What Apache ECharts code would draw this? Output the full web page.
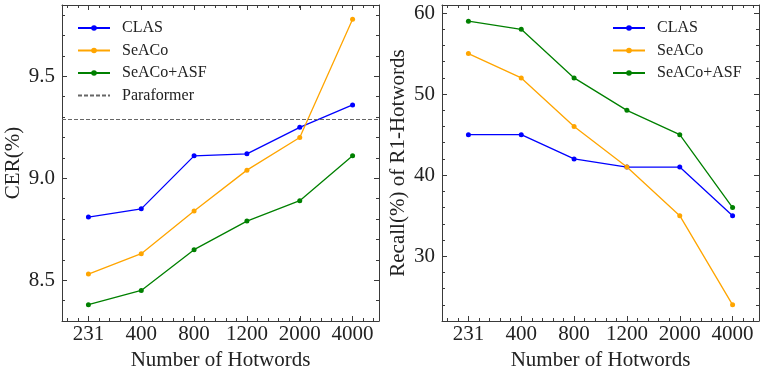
<!DOCTYPE html>
<html>
<head>
<meta charset="utf-8">
<script src="https://cdn.jsdelivr.net/npm/echarts@6/dist/echarts.min.js"></script>
<style>
  html, body { margin: 0; padding: 0; background: #fff; }
  #main { width: 764px; height: 374px; }
</style>
</head>
<body>
<div id="main"></div>
<script>
// data
const hotwords = ['231', '400', '800', '1200', '2000', '4000'];
const cerCLAS = [8.81, 8.85, 9.11, 9.12, 9.25, 9.36];
const cerSeACo = [8.53, 8.63, 8.84, 9.04, 9.20, 9.78];
const cerSeACoASF = [8.38, 8.45, 8.65, 8.79, 8.89, 9.11];
const cerParaformer = 9.29;
const recallCLAS = [45, 45, 42, 41, 41, 35];
const recallSeACo = [55, 52, 46, 41, 35, 24];
const recallSeACoASF = [59, 58, 52, 48, 45, 36];

// minor ticks on x: every 0.2 of a category
const minorCats = [];
for (let i = 0; i < hotwords.length * 5; i++) minorCats.push('m' + i);

var FONT = 'Liberation Serif';
var FRAME = '#3a3a3a';
var chartDom = document.getElementById('main');
var myChart = echarts.init(chartDom);

function xAxes(grid) {
  return [
    { gridIndex: grid, type: 'category', position: 'bottom', data: hotwords, boundaryGap: true,
      name: 'Number of Hotwords', nameLocation: 'middle', nameGap: 21,
      nameTextStyle: { fontFamily: FONT, fontSize: 21, color: '#222' },
      axisLine: { lineStyle: { color: FRAME, width: 1 } },
      axisTick: { show: true, inside: true, alignWithLabel: true, interval: 0, length: 5, lineStyle: { color: FRAME } },
      axisLabel: { interval: 0, margin: 3, fontFamily: FONT, fontSize: 21, color: '#222' },
      splitLine: { show: false } },
    { gridIndex: grid, type: 'category', position: 'top', data: hotwords, boundaryGap: true,
      axisLine: { lineStyle: { color: FRAME, width: 1 } },
      axisTick: { show: true, inside: true, alignWithLabel: true, interval: 0, length: 5, lineStyle: { color: FRAME } },
      axisLabel: { show: false }, splitLine: { show: false } },
    { gridIndex: grid, type: 'category', position: 'bottom', data: minorCats, boundaryGap: true,
      axisLine: { show: false },
      axisTick: { show: true, inside: true, alignWithLabel: true, interval: 0, length: 3, lineStyle: { color: FRAME } },
      axisLabel: { show: false }, splitLine: { show: false } },
    { gridIndex: grid, type: 'category', position: 'top', data: minorCats, boundaryGap: true,
      axisLine: { show: false },
      axisTick: { show: true, inside: true, alignWithLabel: true, interval: 0, length: 3, lineStyle: { color: FRAME } },
      axisLabel: { show: false }, splitLine: { show: false } }
  ];
}

function yAxes(grid, min, max, split, minorInterval, digits, name, nameGap) {
  return [
    { gridIndex: grid, type: 'value', position: 'left', min: min, max: max, splitNumber: split,
      name: name, nameLocation: 'middle', nameGap: nameGap,
      nameTextStyle: { fontFamily: FONT, fontSize: 21, color: '#222' },
      axisLine: { show: true, lineStyle: { color: FRAME, width: 1 } },
      axisTick: { show: true, inside: true, length: 5, lineStyle: { color: FRAME } },
      axisLabel: { margin: 7, showMinLabel: false, showMaxLabel: false, fontFamily: FONT, fontSize: 21, color: '#222',
        formatter: function (v) { return v.toFixed(digits); } },
      splitLine: { show: false } },
    { gridIndex: grid, type: 'value', position: 'right', min: min, max: max, splitNumber: split,
      axisLine: { show: true, lineStyle: { color: FRAME, width: 1 } },
      axisTick: { show: true, inside: true, length: 5, lineStyle: { color: FRAME } },
      axisLabel: { show: false }, splitLine: { show: false } },
    { gridIndex: grid, type: 'value', position: 'left', min: min, max: max, interval: minorInterval,
      axisLine: { show: false },
      axisTick: { show: true, inside: true, length: 3, lineStyle: { color: FRAME } },
      axisLabel: { show: false }, splitLine: { show: false } },
    { gridIndex: grid, type: 'value', position: 'right', min: min, max: max, interval: minorInterval,
      axisLine: { show: false },
      axisTick: { show: true, inside: true, length: 3, lineStyle: { color: FRAME } },
      axisLabel: { show: false }, splitLine: { show: false } }
  ];
}

function lineSeries(name, data, color, xi, yi) {
  return {
    name: name, type: 'line', data: data, xAxisIndex: xi, yAxisIndex: yi,
    symbol: 'circle', symbolSize: 5, color: color,
    lineStyle: { color: color, width: 1.3 }, itemStyle: { color: color },
    animation: false
  };
}

var legendText = { fontFamily: FONT, fontSize: 16, color: '#222', padding: [0, 0, 0, 7] };

var option = {
  animation: false,
  grid: [
    { left: 62, right: 385, top: 5, bottom: 53, containLabel: false, outerBoundsMode: 'none' },
    { left: 442, right: 5, top: 5, bottom: 53, containLabel: false, outerBoundsMode: 'none' }
  ],
  legend: [
    { left: 77, top: 20, padding: 0, orient: 'vertical', itemWidth: 32, itemHeight: 7, itemGap: 6.5,
      textStyle: legendText,
      data: ['CLAS', 'SeACo', 'SeACo+ASF', { name: 'Paraformer', itemStyle: { opacity: 0 } }] },
    { left: 612, top: 20, padding: 0, orient: 'vertical', itemWidth: 32, itemHeight: 7, itemGap: 6.5,
      textStyle: legendText,
      data: [{ name: 'CLAS ' }, { name: 'SeACo ' }, { name: 'SeACo+ASF ' }],
      formatter: function (n) { return n.trim(); } }
  ],
  xAxis: xAxes(0).concat(xAxes(1)),
  yAxis: yAxes(0, 8.3, 9.85, 3, 0.1, 1, 'CER(%)', 38).concat(yAxes(1, 22, 61, 4, 2, 0, 'Recall(%) of R1-Hotwords', 33)),
  series: [
    lineSeries('CLAS', cerCLAS, '#0000ff', 0, 0),
    lineSeries('SeACo', cerSeACo, '#ffa500', 0, 0),
    lineSeries('SeACo+ASF', cerSeACoASF, '#008000', 0, 0),
    {
      name: 'Paraformer', type: 'line', data: [], xAxisIndex: 0, yAxisIndex: 0,
      symbol: 'none', color: '#666',
      lineStyle: { color: '#666', width: 1, type: [4, 2] },
      markLine: {
        silent: true, symbol: 'none', label: { show: false },
        lineStyle: { color: '#666', width: 1, type: [4, 2] },
        data: [{ yAxis: cerParaformer }]
      }
    },
    lineSeries('CLAS ', recallCLAS, '#0000ff', 4, 4),
    lineSeries('SeACo ', recallSeACo, '#ffa500', 4, 4),
    lineSeries('SeACo+ASF ', recallSeACoASF, '#008000', 4, 4)
  ]
};

option && myChart.setOption(option);
</script>
</body>
</html>
